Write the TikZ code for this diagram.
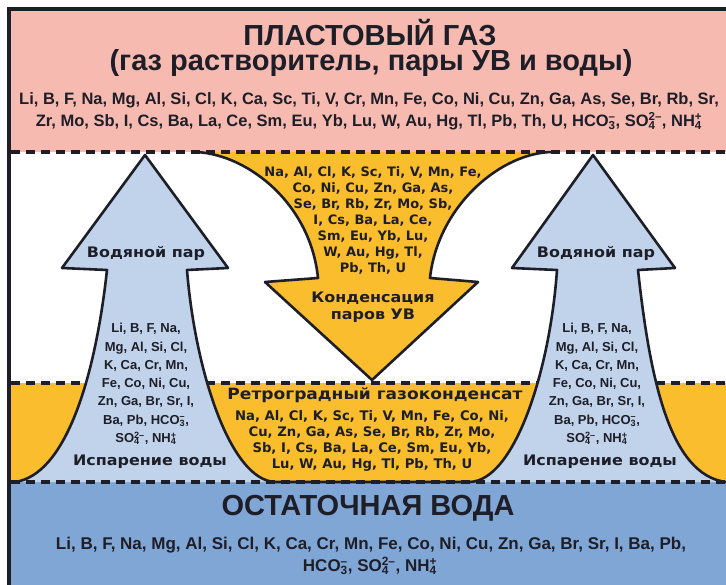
\documentclass[tikz,border=0pt]{standalone}
\usepackage{fontspec}
\setmainfont{Liberation Sans}
\newfontfamily\widefont{DejaVu Sans}
\newfontfamily\broadfont{DejaVu Sans}[FakeStretch=1.1]
\usetikzlibrary{positioning}

\definecolor{gaspink}{RGB}{247,186,176}
\definecolor{condyellow}{RGB}{249,189,45}
\definecolor{vapourblue}{RGB}{192,211,234}
\definecolor{waterblue}{RGB}{128,166,214}
\definecolor{ink}{RGB}{30,30,40}

% ion with stacked sub- and superscript
\newcommand{\chg}[2]{\makebox[0pt][l]{\textsubscript{#1}}\textsuperscript{#2}}

\begin{document}
\begin{tikzpicture}[x=1pt, y=-1pt,
	headline/.style={font=\bfseries\fontsize{29}{31}\selectfont, text=ink, align=center, inner sep=0pt},
	elemline/.style={font=\bfseries\fontsize{16.5}{20}\selectfont, text=ink, inner sep=0pt},
	arrowlabel/.style={font=\broadfont\bfseries\fontsize{14.5}{17}\selectfont, text=ink, align=center, inner sep=0pt},
	arrowlist/.style={font=\bfseries\fontsize{13}{18.3}\selectfont, text=ink, align=center, inner sep=0pt},
	condlist/.style={font=\widefont\bfseries\fontsize{13}{16}\selectfont, text=ink, align=center, inner sep=0pt},
	dashline/.style={line width=3.4pt, dash pattern=on 9pt off 6pt, draw=ink},
	edge/.style={line width=2.6pt, draw=ink, line join=round}]
		\useasboundingbox (0,0) rectangle (726,585);
		\fill[white] (0,0) rectangle (726,585);
		\fill[gaspink] (9,9) rectangle (726,152);
		\fill[waterblue] (9,482) rectangle (726,585);
		\fill[condyellow] (9,383) rectangle (726,482);
		\draw[dashline] (11,383) -- (726,383);
		% condensation arrow
		\filldraw[fill=condyellow, edge] (193,152) .. controls (243,152) and (310,200) .. (318,278) -- (265,282) -- (372,380) -- (478,282) -- (430,278) .. controls (438,205) and (502,152) .. (553,152);
		% vapour arrows
		\fill[vapourblue] (15,482) .. controls (65,475) and (95,380) .. (107,270) -- (62,268) -- (145,155) -- (228,268) -- (187,270) .. controls (195,370) and (230,480) .. (275,482) -- cycle;
		\fill[vapourblue] (470,482) .. controls (515,480) and (550,370) .. (557,270) -- (512,268) -- (593,155) -- (675,268) -- (638,270) .. controls (650,380) and (670,475) .. (726,482) -- cycle;
		\draw[edge] (11,482) -- (15,482) .. controls (65,475) and (95,380) .. (107,270) -- (62,268) -- (145,155) -- (228,268) -- (187,270) .. controls (195,370) and (230,480) .. (275,482) -- (470,482) .. controls (515,480) and (550,370) .. (557,270) -- (512,268) -- (593,155) -- (675,268) -- (638,270) .. controls (650,380) and (670,475) .. (726,482);
		\draw[dashline] (11,152) -- (726,152);
		\draw[dashline] (11,482) -- (726,482);
		\draw[line width=3.5pt, ink] (9,585) -- (9,9) -- (726,9);
		% gas band
		\node[headline] (gas) at (370,33) {ПЛАСТОВЫЙ ГАЗ};
		\node[headline] (gasnote) at (371,63) {(газ растворитель, пары УВ и воды)};
		\node[elemline] (gasel1) at (369,100) {Li, B, F, Na, Mg, Al, Si, Cl, K, Ca, Sc, Ti, V, Cr, Mn, Fe, Co, Ni, Cu, Zn, Ga, As, Se, Br, Rb, Sr,};
		\node[elemline] (gasel2) at (369,121) {Zr, Mo, Sb, I, Cs, Ba, La, Ce, Sm, Eu, Yb, Lu, W, Au, Hg, Tl, Pb, Th, U, HCO\chg{3}{–}, SO\chg{4}{2–}, NH\chg{4}{+}};
		% left vapour arrow
		\node[arrowlabel] (vap1) at (146,253) {Водяной пар};
		\node[arrowlist] (vaplist1) at (146,384) {Li, B, F, Na,\\Mg, Al, Si, Cl,\\K, Ca, Cr, Mn,\\Fe, Co, Ni, Cu,\\Zn, Ga, Br, Sr, I,\\Ba, Pb, HCO\chg{3}{–},\\SO\chg{4}{2–}, NH\chg{4}{+}};
		\node[arrowlabel] (evap1) at (150,462) {Испарение воды};
		% right vapour arrow
		\node[arrowlabel] (vap2) at (596,253) {Водяной пар};
		\node[arrowlist] (vaplist2) at (597,384) {Li, B, F, Na,\\Mg, Al, Si, Cl,\\K, Ca, Cr, Mn,\\Fe, Co, Ni, Cu,\\Zn, Ga, Br, Sr, I,\\Ba, Pb, HCO\chg{3}{–},\\SO\chg{4}{2–}, NH\chg{4}{+}};
		\node[arrowlabel] (evap2) at (600,462) {Испарение воды};
		% condensation arrow
		\node[condlist] (condlist) at (373,220) {Na, Al, Cl, K, Sc, Ti, V, Mn, Fe,\\Co, Ni, Cu, Zn, Ga, As,\\Se, Br, Rb, Zr, Mo, Sb,\\I, Cs, Ba, La, Ce,\\Sm, Eu, Yb, Lu,\\W, Au, Hg, Tl,\\Pb, Th, U};
		\node[arrowlabel] (cond) at (373,307) {Конденсация\\паров УВ};
		% retrograde condensate
		\node[arrowlabel, font=\broadfont\bfseries\fontsize{15.5}{17}\selectfont] (retro) at (375,395) {Ретроградный газоконденсат};
		\node[condlist, font=\widefont\bfseries\fontsize{13.2}{16}\selectfont] (retrolist) at (372,441) {Na, Al, Cl, K, Sc, Ti, V, Mn, Fe, Co, Ni,\\Cu, Zn, Ga, As, Se, Br, Rb, Zr, Mo,\\Sb, I, Cs, Ba, La, Ce, Sm, Eu, Yb,\\Lu, W, Au, Hg, Tl, Pb, Th, U};
		% residual water band
		\node[headline] (water) at (368,508) {ОСТАТОЧНАЯ ВОДА};
		\node[elemline, font=\bfseries\fontsize{17}{20}\selectfont] (watel1) at (371,545) {Li, B, F, Na, Mg, Al, Si, Cl, K, Ca, Cr, Mn, Fe, Co, Ni, Cu, Zn, Ga, Br, Sr, I, Ba, Pb,};
		\node[elemline, font=\bfseries\fontsize{17}{20}\selectfont] (watel2) at (370,566) {HCO\chg{3}{–}, SO\chg{4}{2–}, NH\chg{4}{+}};
		\end{tikzpicture}
\end{document}
